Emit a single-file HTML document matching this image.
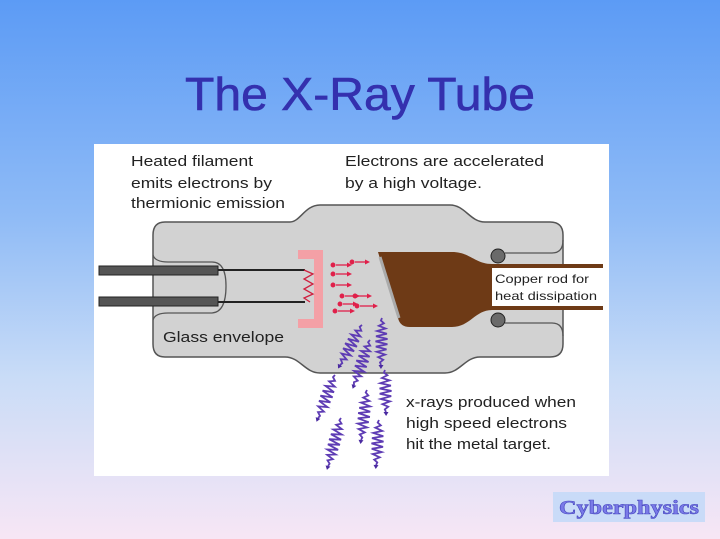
<!DOCTYPE html>
<html><head><meta charset="utf-8"><style>
html,body{margin:0;padding:0;width:720px;height:539px;overflow:hidden}
body{background:linear-gradient(#5c9bf5 0%,#8fbbf6 40%,#c9dcf7 70%,#f7e6f5 100%)}
svg{display:block}
</style></head><body>
<svg id="s" width="720" height="539" viewBox="0 0 720 539" xmlns="http://www.w3.org/2000/svg" font-family="Liberation Sans, sans-serif">
<text x="360" y="110" text-anchor="middle" font-size="46" fill="#3430ae" stroke="#3430ae" stroke-width="0.6" textLength="350" lengthAdjust="spacingAndGlyphs">The X-Ray Tube</text>
<rect x="94" y="144" width="515" height="332" fill="#fff"/>
<path d="M165 222 H290 C300 222 305 205 320 205 H450 C465 205 470 222 485 222 H550 Q563 222 563 235 V344 Q563 357 550 357 H480 C465 357 460 373 445 373 H320 C305 373 300 357 285 357 H165 Q153 357 153 344 V235 Q153 222 165 222 Z" fill="#d2d2d2" stroke="#555" stroke-width="1.5"/>
<path d="M153 255 Q155 262 168 262 H212 Q226 262 226 286 Q226 312 212 313 H168 Q155 313 153 320" fill="none" stroke="#555" stroke-width="1.3"/>
<path d="M505 253 H552 Q563 253 563 240 M505 323 H552 Q563 323 563 336" fill="none" stroke="#555" stroke-width="1.3"/>
<rect x="99" y="266" width="119" height="9" fill="#555" stroke="#222"/>
<rect x="99" y="297" width="119" height="9" fill="#555" stroke="#222"/>
<line x1="218" y1="270" x2="305" y2="270" stroke="#222" stroke-width="2"/>
<line x1="218" y1="302" x2="305" y2="302" stroke="#222" stroke-width="2"/>
<path d="M298 250 H323 V328 H298 V319 H314 V259 H298 Z" fill="#f4a0a6"/>
<polyline points="304,270 313,274 304,279 313,284 304,289 313,294 304,298 310,302" fill="none" stroke="#d02040" stroke-width="1.3"/>
<path d="M378 252 H452 C470 252 475 264 492 264 H603 V268 H492 V306 H603 V310 H492 C475 310 470 327 452 327 H410 Q400 327 398 318 Z" fill="#6e3a16"/>
<line x1="380" y1="257" x2="399" y2="318" stroke="#aaa" stroke-width="3"/>
<rect x="492" y="268" width="111" height="38" fill="#fff"/>
<circle cx="498" cy="256" r="7" fill="#6a6a6a" stroke="#222"/>
<circle cx="498" cy="320" r="7" fill="#6a6a6a" stroke="#222"/>
<g id="el" fill="#e0204a" stroke="#e0204a" stroke-width="1.3"></g>
<g id="xr" fill="#4a2aa0" stroke="#5e3cb4" stroke-width="1.8"></g>
<g font-size="15" fill="#222">
<text x="131" y="166" textLength="122" lengthAdjust="spacingAndGlyphs">Heated filament</text>
<text x="131" y="188" textLength="141" lengthAdjust="spacingAndGlyphs">emits electrons by</text>
<text x="131" y="208" textLength="154" lengthAdjust="spacingAndGlyphs">thermionic emission</text>
<text x="345" y="166" textLength="199" lengthAdjust="spacingAndGlyphs">Electrons are accelerated</text>
<text x="345" y="188" textLength="137" lengthAdjust="spacingAndGlyphs">by a high voltage.</text>
<text x="163" y="342" textLength="121" lengthAdjust="spacingAndGlyphs">Glass envelope</text>
<text x="406" y="407" textLength="170" lengthAdjust="spacingAndGlyphs">x-rays produced when</text>
<text x="406" y="428" textLength="161" lengthAdjust="spacingAndGlyphs">high speed electrons</text>
<text x="406" y="449" textLength="145" lengthAdjust="spacingAndGlyphs">hit the metal target.</text>
</g>
<g font-size="12" fill="#222">
<text x="495" y="283" textLength="94" lengthAdjust="spacingAndGlyphs">Copper rod for</text>
<text x="495" y="300" textLength="102" lengthAdjust="spacingAndGlyphs">heat dissipation</text>
</g>
<rect x="553" y="492" width="152" height="30" fill="#c9dbf8"/>
<text x="629" y="514" text-anchor="middle" font-family="Liberation Serif, serif" font-weight="bold" font-size="20" fill="#7a7ae8" stroke="#4a4ac0" stroke-width="0.6" textLength="140" lengthAdjust="spacingAndGlyphs">Cyberphysics</text>
</svg>
<script>
var NS="http://www.w3.org/2000/svg";
function mk(g,t,a){var e=document.createElementNS(NS,t);for(var k in a)e.setAttribute(k,a[k]);g.appendChild(e);}
var el=document.getElementById("el");
[[333,265,352],[352,262,370],[333,274,352],[333,285,352],[342,296,360],[340,304,358],[335,311,355],[357,306,378],[355,296,372]].forEach(function(p){
 mk(el,"circle",{cx:p[0],cy:p[1],r:1.8});
 mk(el,"line",{x1:p[0]+3,y1:p[1],x2:p[2]-3,y2:p[1]});
 mk(el,"path",{d:"M"+p[2]+" "+p[1]+" l-5 -2.5 v5 z",stroke:"none"});
});
var xr=document.getElementById("xr");
[[362,325,340,365],[370,340,354,385],[382,318,381,365],[385,370,386,412],[335,375,318,418],[367,390,361,440],[341,418,328,466],[379,420,376,465]].forEach(function(s){
 var dx=s[2]-s[0],dy=s[3]-s[1],L=Math.sqrt(dx*dx+dy*dy),ux=dx/L,uy=dy/L,nx=-uy,ny=ux,n=Math.floor(L/2.6),pts=[];
 for(var i=0;i<=n;i++){var t=i/n,amp=6*Math.sin(Math.PI*t)*(i%2?1:-1);pts.push((s[0]+dx*t+nx*amp).toFixed(1)+","+(s[1]+dy*t+ny*amp).toFixed(1));}
 mk(xr,"polyline",{points:pts.join(" "),fill:"none"});
 var ex=s[2],ey=s[3];
 mk(xr,"path",{d:"M"+(ex+ux*4)+" "+(ey+uy*4)+" L"+(ex+nx*2.5)+" "+(ey+ny*2.5)+" L"+(ex-nx*2.5)+" "+(ey-ny*2.5)+" Z",stroke:"none"});
});
</script>
</body></html>
